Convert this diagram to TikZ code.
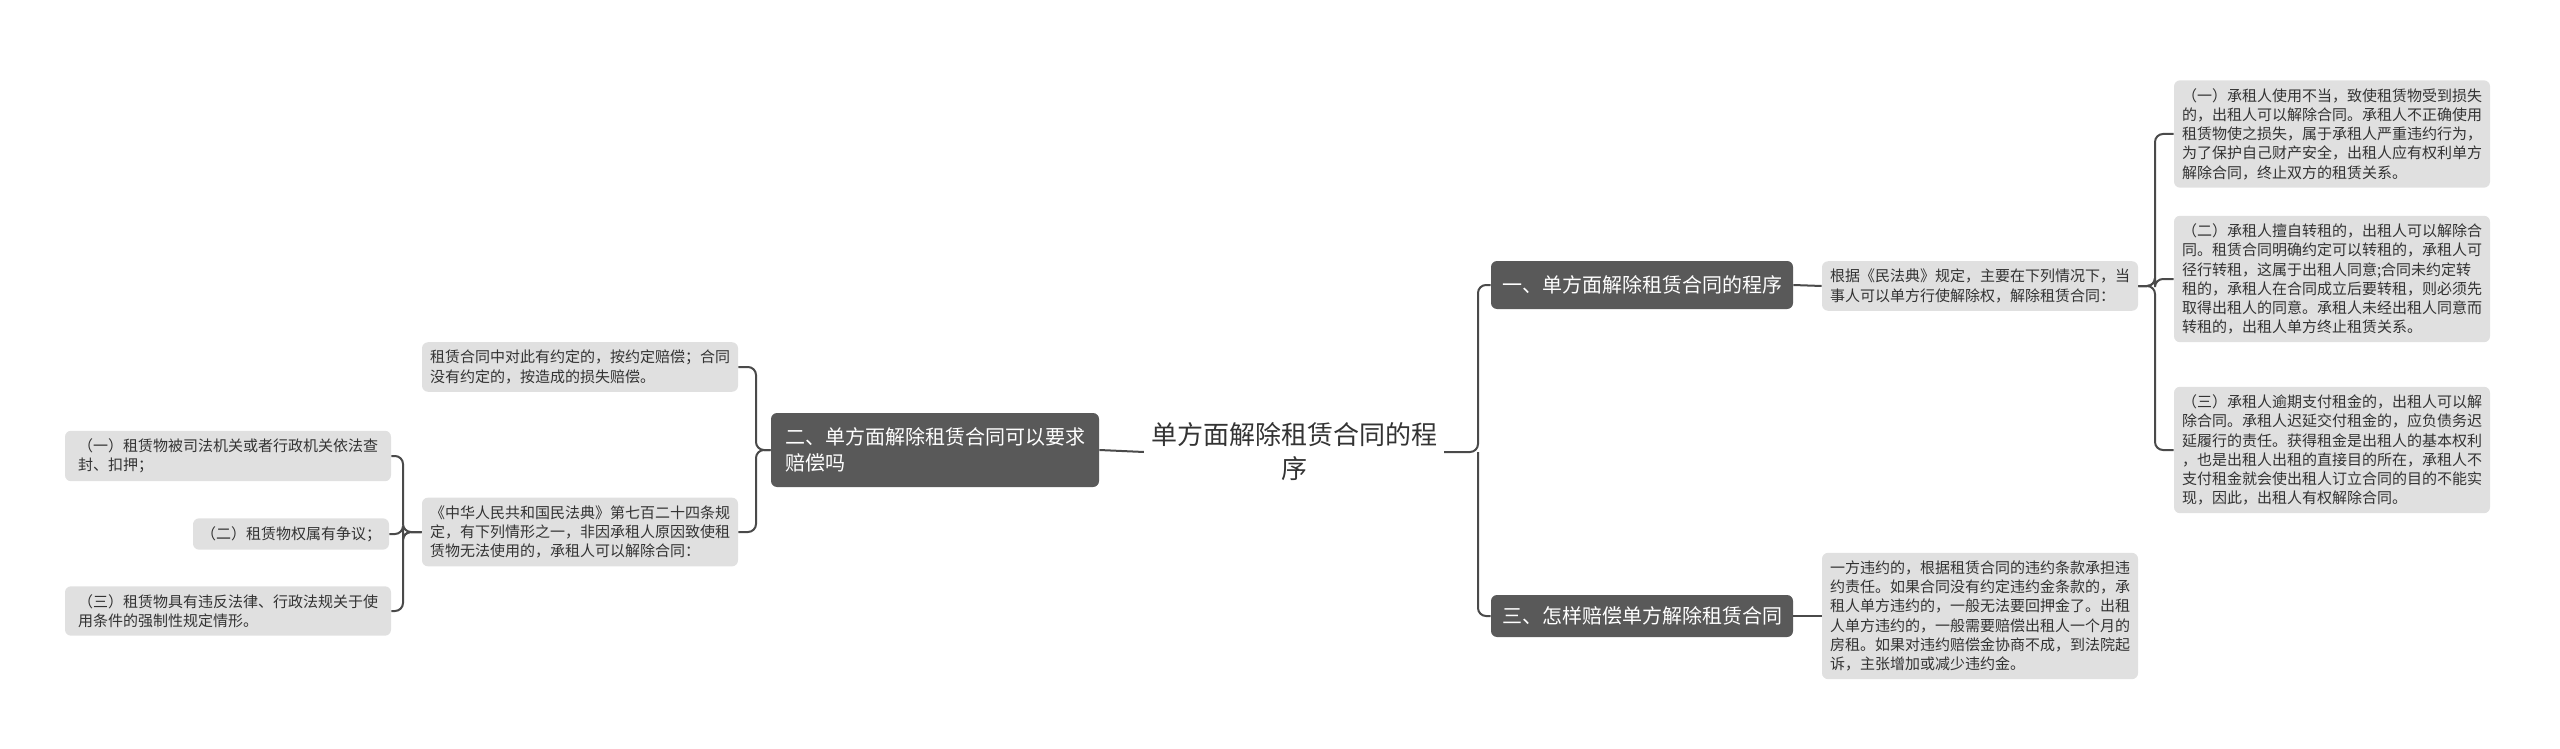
\documentclass[tikz,border=0pt]{standalone}
\usepackage{fontspec}
\setmainfont{Noto Sans CJK SC}
\usetikzlibrary{positioning}
\definecolor{boxdark}{HTML}{595959}
\definecolor{boxlight}{HTML}{E0E0E0}
\definecolor{linegray}{HTML}{4A4A4A}
\definecolor{txtgray}{HTML}{333333}

\begin{document}
\begin{tikzpicture}[
  x=0.5pt, y=-0.5pt,
  topic/.style={fill=boxdark, text=white, rounded corners=3pt, font=\fontsize{10}{13}\selectfont, align=left, inner sep=4pt},
  leaf/.style={fill=boxlight, text=txtgray, rounded corners=3pt, font=\fontsize{7.5}{9.6}\selectfont, align=left, inner sep=4pt},
  link/.style={draw=linegray, line width=1pt, rounded corners=4pt},
]
\useasboundingbox (0,0) rectangle (2560,749);

\node [font=\fontsize{13}{17}\selectfont, text=txtgray, align=center] (root) at (1294,452)
  {单方面解除租赁合同的程\\序};

% right side
\node [topic, minimum height=24pt, minimum width=151pt] (b1) at (1642,285) {一、单方面解除租赁合同的程序};
\node [topic, minimum height=21pt, minimum width=151pt] (b3) at (1642,616) {三、怎样赔偿单方解除租赁合同};

\node [leaf] (rule) at (1980,286) {根据《民法典》规定，主要在下列情况下，当\\事人可以单方行使解除权，解除租赁合同：};
\node [leaf] (pay) at (1980,616) {一方违约的，根据租赁合同的违约条款承担违\\约责任。如果合同没有约定违约金条款的，承\\租人单方违约的，一般无法要回押金了。出租\\人单方违约的，一般需要赔偿出租人一个月的\\房租。如果对违约赔偿金协商不成，到法院起\\诉，主张增加或减少违约金。};

\node [leaf] (l1) at (2332,134) {（一）承租人使用不当，致使租赁物受到损失\\的，出租人可以解除合同。承租人不正确使用\\租赁物使之损失，属于承租人严重违约行为，\\为了保护自己财产安全，出租人应有权利单方\\解除合同，终止双方的租赁关系。};
\node [leaf] (l2) at (2332,279) {（二）承租人擅自转租的，出租人可以解除合\\同。租赁合同明确约定可以转租的，承租人可\\径行转租，这属于出租人同意;合同未约定转\\租的，承租人在合同成立后要转租，则必须先\\取得出租人的同意。承租人未经出租人同意而\\转租的，出租人单方终止租赁关系。};
\node [leaf] (l3) at (2332,450) {（三）承租人逾期支付租金的，出租人可以解\\除合同。承租人迟延交付租金的，应负债务迟\\延履行的责任。获得租金是出租人的基本权利\\，也是出租人出租的直接目的所在，承租人不\\支付租金就会使出租人订立合同的目的不能实\\现，因此，出租人有权解除合同。};

% left side
\node [topic, minimum height=37pt, minimum width=164pt] (b2) at (935,450) {二、单方面解除租赁合同可以要求\\赔偿吗};

\node [leaf] (c1) at (580,367) {租赁合同中对此有约定的，按约定赔偿；合同\\没有约定的，按造成的损失赔偿。};
\node [leaf] (c2) at (580,532) {《中华人民共和国民法典》第七百二十四条规\\定，有下列情形之一，非因承租人原因致使租\\赁物无法使用的，承租人可以解除合同：};

\node [leaf, minimum width=163pt] (d1) at (228,456) {（一）租赁物被司法机关或者行政机关依法查\\封、扣押；};
\node [leaf] (d2) at (291,534) {（二）租赁物权属有争议；};
\node [leaf, minimum width=163pt] (d3) at (228,611) {（三）租赁物具有违反法律、行政法规关于使\\用条件的强制性规定情形。};

% connectors
\coordinate (rj) at (1478,452);
\draw [link] (root.east) -- (rj) |- (b1.west);
\draw [link] (rj) |- (b3.west);
\draw [link] (b1.east) -- (rule.west);
\draw [link] (b3.east) -- (pay.west);
\foreach \n in {l1,l2,l3}
  \draw [link] (rule.east) -- (2155,286) |- (\n.west);

\draw [link] (root.west) -- (b2.east);
\foreach \n in {c1,c2}
  \draw [link] (b2.west) -- (756,450) |- (\n.east);
\foreach \n in {d1,d2,d3}
  \draw [link] (c2.west) -- (403,532) |- (\n.east);
\end{tikzpicture}
\end{document}
